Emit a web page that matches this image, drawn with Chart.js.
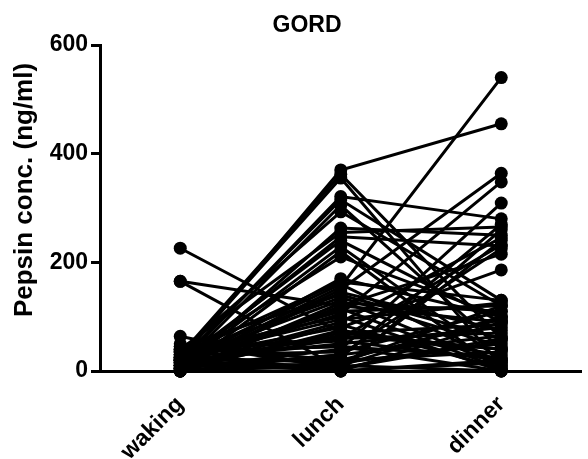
<!DOCTYPE html>
<html>
<head>
<meta charset="utf-8">
<script src="https://cdn.jsdelivr.net/npm/chart.js@4.4.1/dist/chart.umd.min.js"></script>
<style>
  html, body { margin: 0; padding: 0; background: #fff; }
  #wrap { width: 588px; height: 459px; }
</style>
</head>
<body>
<div id="wrap"><canvas id="chart" width="588" height="459"></canvas></div>
<script>
// ------------------------------------------------------------------
// Data: one subject per index, pepsin conc. (ng/ml) at each time point
// ------------------------------------------------------------------
const categories = ["waking", "lunch", "dinner"];
const yTicks = [0, 200, 400, 600];
const chartTitle = "GORD";
const yTitle = "Pepsin conc. (ng/ml)";

const waking = [226, 165, 165, 64, 20, 25, 30, 15, 10, 35, 20, 5, 12, 40, 8, 18,
                25, 0, 30, 10, 5, 45, 20, 0, 15, 35, 10, 25, 0, 40, 20, 5,
                30, 10, 0, 15, 50, 20, 0, 10, 35, 5, 25, 0, 45, 15,
                10, 20, 5, 30, 0, 15, 25, 10, 40, 5, 20, 0, 10, 35, 15, 25];
const lunch  = [70, 120, 5, 0, 370, 355, 362, 321, 305, 293, 315, 263, 247, 255, 229, 240,
                210, 220, 164, 155, 150, 140, 130, 120, 105, 100, 90, 80, 75, 60, 50, 40,
                35, 25, 15, 10, 5, 0, 0, 60, 45, 85, 110, 30, 20, 65,
                170, 160, 145, 135, 125, 115, 95, 70, 55, 30, 20, 10, 5, 45, 0, 15];
const dinner = [40, 90, 60, 20, 455, 10, 60, 280, 40, 120, 130, 250, 230, 265, 20, 90,
                100, 0, 130, 540, 364, 60, 10, 215, 348, 0, 245, 186, 30, 232, 80, 309,
                110, 270, 50, 0, 240, 260, 15, 70, 25, 5, 120, 225, 95, 40,
                100, 15, 75, 45, 110, 5, 125, 85, 20, 65, 35, 100, 55, 0, 90, 120];

// ------------------------------------------------------------------
// Helpers
// ------------------------------------------------------------------
const FONT = "'Liberation Sans', Arial, sans-serif";

const datasets = waking.map((w, i) => ({
  data: [w, lunch[i], dinner[i]],
  borderColor: "#000",
  backgroundColor: "#000",
  borderWidth: 3,
  pointRadius: 6.5,
  pointHoverRadius: 6.5,
  pointBorderWidth: 0,
  tension: 0,
  clip: false,
}));

// Title and rotated y title drawn by hand so they sit where the original does
const textPlugin = {
  id: "textPlugin",
  afterDraw(chart) {
    const { ctx } = chart;
    ctx.save();
    ctx.fillStyle = "#000";
    ctx.textAlign = "center";
    ctx.textBaseline = "middle";
    ctx.font = `bold 23px ${FONT}`;
    ctx.fillText(chartTitle, 307, 26);

    ctx.translate(25, 190);
    ctx.rotate(-Math.PI / 2);
    ctx.font = `bold 26px ${FONT}`;
    ctx.fillText(yTitle, 0, 0);
    ctx.restore();
  },
};

new Chart(document.getElementById("chart"), {
  type: "line",
  data: { labels: categories, datasets },
  plugins: [textPlugin],
  options: {
    responsive: false,
    animation: false,
    events: [],
    layout: { padding: { top: 45, right: 0, left: 0, bottom: 0 } },
    plugins: { legend: { display: false }, tooltip: { enabled: false } },
    scales: {
      x: {
        type: "category",
        offset: true,
        grid: { display: false },
        border: { display: true, color: "#000", width: 3 },
        ticks: {
          color: "#000",
          font: { family: FONT, size: 23, weight: "bold" },
          maxRotation: 45,
          minRotation: 45,
          padding: 12,
        },
        afterFit: s => { s.height = 88; },
      },
      y: {
        min: 0,
        max: 600,
        afterBuildTicks: s => { s.ticks = yTicks.map(v => ({ value: v })); },
        grid: {
          drawOnChartArea: false,
          drawTicks: true,
          tickLength: 9,
          tickWidth: 3,
          tickColor: "#000",
        },
        border: { display: true, color: "#000", width: 3 },
        ticks: {
          color: "#000",
          padding: 3,
          font: { family: FONT, size: 23, weight: "bold" },
        },
        afterFit: s => { s.width = 100; },
      },
    },
  },
});
</script>
</body>
</html>
